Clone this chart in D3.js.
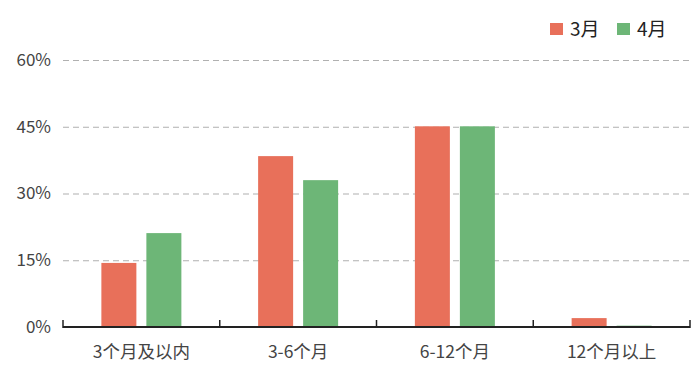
<!DOCTYPE html>
<html><head><meta charset="utf-8">
<script src="https://cdn.jsdelivr.net/npm/d3@7/dist/d3.min.js"></script>
<style>body{margin:0;background:#fff}svg{display:block;font-family:"Noto Sans CJK SC","Noto Sans",sans-serif}</style>
</head><body><svg id="c" width="700" height="386"></svg>
<script>
const categories = ["3个月及以内","3-6个月","6-12个月","12个月以上"];
const seriesNames = ["3月","4月"];
const march = [14.4, 38.4, 45.1, 2.0];
const april = [21.1, 33.0, 45.1, 0.3];
const yTicks = [0, 15, 30, 45, 60];
const colors = ["#E8705A","#6DB677"];

const svg = d3.select("#c");
const m = {l:63, r:10, t:60, b:59};
const W = 700, H = 386;
const x = d3.scaleBand().domain(categories).range([m.l, W - m.r]).paddingInner(0).paddingOuter(0);
const y = d3.scaleLinear().domain([0, 60]).range([H - m.b, m.t]);

// grid
svg.append("g").selectAll("line").data(yTicks.filter(d=>d>0)).join("line")
  .attr("x1", m.l).attr("x2", W - m.r)
  .attr("y1", d=>y(d)+0.5).attr("y2", d=>y(d)+0.5)
  .attr("stroke","#b0b0b0").attr("stroke-width",1.2).attr("stroke-dasharray","6,4");

// y labels
svg.append("g").selectAll("text").data(yTicks).join("text")
  .attr("x", 51).attr("y", d=>y(d)).attr("dy","0.35em")
  .attr("text-anchor","end").attr("fill","#444").attr("font-size",17)
  .text(d=>d+"%");

const data = categories.map((c,i)=>({c, v:[march[i], april[i]]}));
const bw = 35, gap = 10;
const g = svg.append("g");
data.forEach(d=>{
  const cx = x(d.c) + x.bandwidth()/2;
  d.v.forEach((v,j)=>{
    const x0 = j===0 ? cx - gap/2 - bw : cx + gap/2;
    g.append("rect").attr("x", x0).attr("width", bw)
      .attr("y", y(v)).attr("height", y(0)-y(v)).attr("fill", colors[j]);
  });
});

// x axis
const ax = svg.append("g").attr("transform",`translate(0,${y(0)})`)
  .call(d3.axisBottom(x).tickSize(0).tickPadding(19));
ax.select(".domain").remove();
ax.selectAll("text").attr("font-size",17.5).attr("fill","#444").attr("font-family",'"Noto Sans CJK SC","Noto Sans",sans-serif');
ax.append("line").attr("x1", m.l).attr("x2", W - m.r).attr("y1",0).attr("y2",0).attr("stroke","#222").attr("stroke-width",2);
const bounds = categories.map(c=>x(c)).concat([x(categories[categories.length-1]) + x.bandwidth()]);
ax.selectAll("line.tk").data(bounds).join("line").attr("class","tk")
  .attr("x1",d=>d).attr("x2",d=>d).attr("y1",1).attr("y2",-7).attr("stroke","#222").attr("stroke-width",1.5);

// legend
const lg = svg.append("g").attr("transform","translate(550,23)");
const lx = [0, 67];
seriesNames.forEach((s,i)=>{
  lg.append("rect").attr("x", lx[i]).attr("y",0).attr("width",13).attr("height",12).attr("fill",colors[i]);
  lg.append("text").attr("x", lx[i]+20).attr("y",6).attr("dy","0.35em").attr("font-size",19).attr("fill","#222").text(s);
});
</script></body></html>
